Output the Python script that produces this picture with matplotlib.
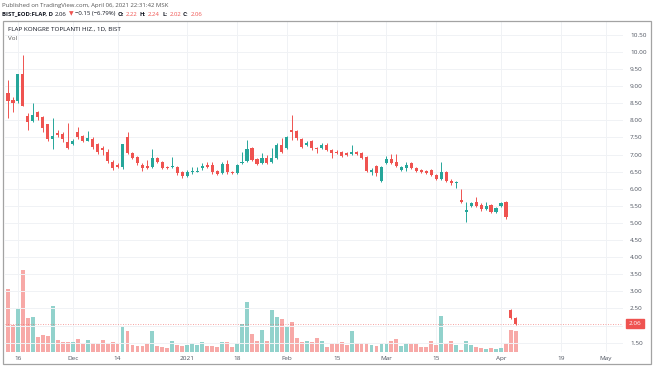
"""
FLAP günlük mum grafiği + hacim, TradingView görünümünde
"""
import matplotlib
matplotlib.use("Agg")
import matplotlib.pyplot as plt
from matplotlib.patches import Rectangle
import numpy as np

plt.rcParams["font.family"] = ["Open Sans", "DejaVu Sans"]

# daily bars, 12 Nov 2020 -> 06 Apr 2021
opens = [8.80, 8.60, 8.57, 9.36, 8.13, 7.98, 8.25, 8.10, 7.89, 7.46,
         7.63, 7.60, 7.37, 7.31, 7.66, 7.54, 7.40, 7.46, 7.31, 7.19,
         7.08, 6.78, 6.70, 6.64, 7.52, 7.04, 6.93, 6.70, 6.67, 6.64,
         6.90, 6.78, 6.64, 6.63, 6.64, 6.49, 6.37, 6.49, 6.50, 6.61,
         6.70, 6.70, 6.52, 6.46, 6.73, 6.49, 6.46, 6.75, 6.81, 7.19,
         6.87, 6.75, 6.90, 6.78, 6.90, 7.28, 7.19, 7.72, 7.69, 7.46,
         7.28, 7.40, 7.19, 7.19, 7.28, 7.13, 7.07, 7.07, 7.05, 7.02,
         7.07, 7.05, 6.93, 6.49, 6.67, 6.23, 6.75, 6.87, 6.78, 6.55,
         6.61, 6.75, 6.61, 6.55, 6.52, 6.55, 6.40, 6.28, 6.49, 6.23,
         6.17, 5.67, 5.32, 5.50, 5.61, 5.53, 5.41, 5.53, 5.32, 5.50,
         5.61, 2.47, 2.22]
highs = [9.18, 8.68, 9.36, 9.91, 8.22, 8.50, 8.28, 8.13, 7.89, 8.07,
         7.72, 7.66, 7.92, 7.46, 7.81, 7.57, 7.69, 7.52, 7.34, 7.25,
         7.16, 6.84, 6.75, 7.31, 7.66, 7.07, 6.96, 6.75, 6.84, 7.16,
         6.93, 6.81, 6.67, 6.93, 6.67, 6.52, 6.55, 6.64, 6.64, 6.75,
         6.78, 6.78, 6.55, 6.78, 6.84, 6.52, 6.73, 7.07, 7.43, 7.22,
         6.90, 7.05, 7.00, 7.19, 7.34, 7.49, 7.55, 8.16, 7.72, 7.49,
         7.40, 7.43, 7.22, 7.34, 7.34, 7.16, 7.13, 7.10, 7.08, 7.28,
         7.10, 7.07, 6.96, 6.61, 6.70, 6.67, 6.96, 7.02, 7.02, 6.67,
         6.78, 6.78, 6.64, 6.58, 6.55, 6.58, 6.43, 6.78, 6.52, 6.28,
         6.23, 6.00, 5.61, 5.61, 5.76, 5.58, 5.61, 5.56, 5.47, 5.61,
         5.64, 2.49, 2.24]
lows = [8.07, 8.25, 8.50, 8.42, 7.72, 7.95, 8.02, 7.66, 7.40, 7.16,
        7.52, 7.37, 7.16, 7.28, 7.46, 7.37, 7.40, 7.16, 7.02, 6.99,
        6.75, 6.55, 6.61, 6.58, 7.02, 6.87, 6.70, 6.52, 6.58, 6.61,
        6.75, 6.58, 6.58, 6.60, 6.40, 6.31, 6.34, 6.43, 6.49, 6.55,
        6.61, 6.43, 6.40, 6.43, 6.43, 6.43, 6.43, 6.72, 6.78, 6.81,
        6.70, 6.72, 6.72, 6.75, 6.87, 7.05, 7.16, 7.43, 7.43, 7.19,
        7.25, 7.13, 7.05, 7.16, 7.10, 6.90, 7.02, 6.93, 6.96, 6.99,
        6.99, 6.87, 6.49, 6.40, 6.37, 6.20, 6.72, 6.72, 6.64, 6.52,
        6.52, 6.58, 6.49, 6.46, 6.43, 6.37, 6.25, 6.25, 6.20, 6.11,
        6.02, 5.58, 5.03, 5.47, 5.47, 5.35, 5.38, 5.30, 5.30, 5.47,
        5.12, 2.20, 2.02]
closes = [8.57, 8.51, 9.36, 8.42, 7.95, 8.16, 8.10, 7.78, 7.46, 7.54,
          7.57, 7.46, 7.19, 7.40, 7.51, 7.40, 7.49, 7.22, 7.08, 7.13,
          6.81, 6.61, 6.64, 7.31, 7.04, 6.90, 6.75, 6.61, 6.61, 6.90,
          6.78, 6.61, 6.61, 6.65, 6.46, 6.37, 6.49, 6.52, 6.53, 6.67,
          6.64, 6.49, 6.43, 6.73, 6.49, 6.46, 6.70, 6.78, 7.16, 6.84,
          6.73, 6.90, 6.75, 6.90, 7.28, 7.07, 7.51, 7.66, 7.49, 7.22,
          7.34, 7.19, 7.16, 7.28, 7.13, 7.05, 7.05, 6.96, 6.99, 7.07,
          7.02, 6.90, 6.52, 6.55, 6.46, 6.64, 6.87, 6.75, 6.67, 6.64,
          6.70, 6.61, 6.52, 6.49, 6.46, 6.40, 6.28, 6.49, 6.23, 6.17,
          6.20, 5.61, 5.38, 5.58, 5.50, 5.41, 5.50, 5.32, 5.44, 5.58,
          5.18, 2.21, 2.06]
volume = [190, 80, 133, 247, 102, 105, 45, 51, 48, 137,
          37, 30, 30, 30, 38, 23, 37, 28, 25, 37,
          25, 30, 23, 78, 63, 20, 17, 17, 23, 62,
          18, 15, 13, 33, 20, 18, 20, 27, 22, 29,
          18, 18, 15, 30, 30, 15, 28, 85, 150, 55,
          33, 67, 33, 125, 105, 100, 77, 90, 42, 30,
          32, 30, 43, 33, 15, 25, 25, 30, 20, 63,
          27, 27, 28, 20, 17, 23, 25, 33, 38, 17,
          27, 23, 23, 15, 15, 33, 20, 108, 25, 32,
          20, 7, 33, 20, 15, 13, 10, 12, 10, 13,
          27, 67, 62]

# time axis: bar index of each label (future bars continue past the last one)
tick_pos = [2, 13, 22, 36, 46, 56, 66, 76, 86, 99, 111, 120]
tick_labels = ["16", "Dec", "14", "2021", "18", "Feb", "15", "Mar", "15", "Apr", "19", "May"]
price_ticks = [1.5, 2.0, 2.5, 3.0, 3.5, 4.0, 4.5, 5.0, 5.5, 6.0, 6.5, 7.0,
               7.5, 8.0, 8.5, 9.0, 9.5, 10.0, 10.5]
last_price = 2.06

UP, DOWN = "#26a69a", "#ef5350"
UP_VOL, DOWN_VOL = "#92d2cc", "#f7a9a7"
W, H = 654, 366


def put_segments(fig, x_px, y_px, segments, size):
    """Write colored text pieces one after another on one line."""
    r = fig.canvas.get_renderer()
    x = x_px
    for text, color, weight in segments:
        t = fig.text(x / W, 1 - y_px / H, text, color=color, fontsize=size,
                     fontweight=weight, ha="left", va="center")
        bb = t.get_window_extent(renderer=r)
        x = bb.x1 + 2


def plot_chart(save_path="out.png"):
    o = np.array(opens)
    c = np.array(closes)
    x = np.arange(len(c))
    up = c >= o
    colors = np.where(up, UP, DOWN)
    vcolors = np.where(up, UP_VOL, DOWN_VOL)

    fig = plt.figure(figsize=(W / 100, H / 100), dpi=100)
    ax_vol = fig.add_axes([5 / W, 1 - 352 / H, 618 / W, 330 / H])
    ax = ax_vol.twinx()

    # volume behind the candles
    ax_vol.bar(x, volume, width=0.78, color=vcolors, linewidth=0)
    ax_vol.set_ylim(0, 990)
    ax_vol.set_yticks([])
    ax_vol.set_xticks(tick_pos)
    ax_vol.set_xticklabels(tick_labels)
    ax_vol.tick_params(axis="x", length=0, labelsize=4.6, colors="#4c525e", pad=3)
    ax_vol.grid(axis="x", color="#f0f2f5", linewidth=0.7)
    ax_vol.set_axisbelow(True)

    # candles
    ax.vlines(x, lows, highs, colors=colors, linewidth=0.7)
    ax.bar(x, np.maximum(np.abs(c - o), 0.025), bottom=np.minimum(o, c),
           width=0.62, color=colors, linewidth=0)
    ax.set_ylim(1.228, 10.877)
    ax.set_xlim(-0.6, 123.5)
    ax.set_yticks(price_ticks)
    ax.set_yticklabels(["" if p == 2.0 else f"{p:.2f}" for p in price_ticks])
    ax.tick_params(axis="y", length=0, labelsize=4.6, colors="#4c525e", pad=5)
    ax.grid(axis="y", color="#f0f2f5", linewidth=0.7)
    ax.set_axisbelow(True)

    # last price line + label
    ax.axhline(last_price, color=DOWN, linewidth=0.6, linestyle=(0, (1, 2)), alpha=0.7)
    ax.annotate(f"{last_price:.2f}", xy=(1.0, last_price), xycoords=("axes fraction", "data"),
                xytext=(4, 0), textcoords="offset points", ha="left", va="center",
                fontsize=4.6, color="white",
                bbox=dict(boxstyle="square,pad=0.35", fc=DOWN, ec=DOWN))

    for a in (ax, ax_vol):
        for s in a.spines.values():
            s.set_visible(False)

    # frame around the pane
    fig.patches.append(Rectangle((3 / W, 1 - 364 / H), 648 / W, 343 / H,
                                 transform=fig.transFigure, fill=False,
                                 edgecolor="#a3a3a3", linewidth=0.9))

    # header
    fig.text(2 / W, 1 - 5 / H, "Published on TradingView.com, April 06, 2021 22:31:42 MSK",
             fontsize=4.3, color="#555555", ha="left", va="center")
    put_segments(fig, 2, 14, [
        ("BIST_EOD:FLAP, D", "#131722", "bold"),
        ("2.06", "#131722", "normal"),
        ("▼", DOWN, "normal"),
        ("\u22120.15 (\u22126.79%)", "#131722", "normal"),
        ("O:", "#131722", "bold"), ("2.22", DOWN, "normal"),
        ("H:", "#131722", "bold"), ("2.24", DOWN, "normal"),
        ("L:", "#131722", "bold"), ("2.02", DOWN, "normal"),
        ("C:", "#131722", "bold"), ("2.06", DOWN, "normal"),
    ], 4.3)
    fig.text(8 / W, 1 - 29 / H, "FLAP KONGRE TOPLANTI HIZ., 1D, BIST",
             fontsize=4.5, color="#131722", ha="left", va="center")
    fig.text(8 / W, 1 - 38 / H, "Vol", fontsize=4.5, color="#555555", ha="left", va="center")

    fig.savefig(save_path, dpi=100)
    plt.close(fig)


plot_chart("out.png")
